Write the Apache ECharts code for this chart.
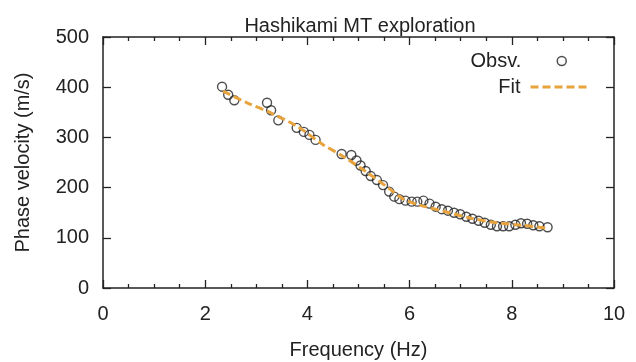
<!DOCTYPE html>
<html>
<head>
<meta charset="utf-8">
<script src="https://cdn.jsdelivr.net/npm/echarts@6/dist/echarts.min.js"></script>
<style>html,body{margin:0;padding:0;background:#fff}#c{width:636px;height:362px}</style>
</head>
<body>
<div id="c"></div>
<script>
const obsFreq = [2.33,2.45,2.57,3.21,3.29,3.43,3.79,3.93,4.04,4.16,4.67,4.86,4.96,5.04,5.14,5.24,5.36,5.48,5.60,5.70,5.80,5.92,6.04,6.15,6.27,6.39,6.51,6.63,6.75,6.87,6.99,7.11,7.23,7.35,7.47,7.59,7.71,7.83,7.95,8.07,8.18,8.30,8.42,8.54,8.70];
const obsVel  = [401,385,374,369,354,334,319,311,305,295,267,265,254,244,233,223,215,205,192,182,177,174,172,172,174,168,162,157,154,150,147,142,138,134,130,126,123,123,123,126,129,128,125,123,121];
const fitFreq = [2.35,2.8,3.3,3.8,4.3,4.7,5.2,5.6,5.9,6.2,6.7,7.2,7.7,8.2,8.7];
const fitVel  = [392,370,348,322,286,262,228,198,176,165,152,139,130,125,119];
const xTicks = [0,2,4,6,8,10];
const yTicks = [0,100,200,300,400,500];

const chart = echarts.init(document.getElementById('c'), null, {renderer:'canvas'});
const font = 'Liberation Sans, Arial, sans-serif';
const axisCol = '#222';
const txt = '#222';
const fs = 20;
const orange = '#e8a33c';
const tickStyle = {color:axisCol, width:1.3};
chart.setOption({
  animation:false,
  title:{text:'Hashikami MT exploration', left:355, textAlign:'center', top:11,
    textStyle:{fontFamily:font, fontSize:fs, fontWeight:'normal', color:txt}},
  legend:[
    {data:[{name:'Obsv.', icon:'circle', itemStyle:{color:'transparent', borderColor:'#222', borderWidth:1.5}}],
     right:64, top:46, align:'right', itemWidth:59, itemHeight:9,
     textStyle:{fontFamily:font, fontSize:fs, color:txt, padding:[0,6,0,0]}},
    {data:['Fit'], right:39, top:72, align:'right', itemWidth:60, itemHeight:20,
     itemStyle:{opacity:0},
     lineStyle:{color:orange, width:3, type:[8,4], opacity:1},
     textStyle:{fontFamily:font, fontSize:fs, color:txt, padding:[0,5,0,0]}}
  ],
  grid:{left:103, right:22, top:37, bottom:74, containLabel:false, outerBoundsMode:'none'},
  xAxis:[
    {type:'value', min:0, max:10, interval:2, position:'bottom',
      axisLine:{show:true, onZero:false, lineStyle:{color:axisCol, width:1.5}},
      splitLine:{show:false},
      name:'Frequency (Hz)', nameLocation:'middle', nameGap:52,
      nameTextStyle:{fontFamily:font, fontSize:fs, color:txt},
      axisTick:{show:true, inside:true, length:8, lineStyle:tickStyle},
      minorTick:{show:true, splitNumber:4, length:4, lineStyle:tickStyle},
      axisLabel:{fontFamily:font, fontSize:fs, color:txt, margin:16,
        formatter:v=>xTicks.includes(v)?String(v):''}},
    {type:'value', min:0, max:10, interval:2, position:'top',
      axisLine:{show:true, onZero:false, lineStyle:{color:axisCol, width:1.5}},
      splitLine:{show:false},
      axisTick:{show:true, inside:true, length:8, lineStyle:tickStyle},
      minorTick:{show:true, splitNumber:4, length:4, lineStyle:tickStyle},
      axisLabel:{show:false}}
  ],
  yAxis:[
    {type:'value', min:0, max:500, interval:100, position:'left',
      axisLine:{show:true, onZero:false, lineStyle:{color:axisCol, width:1.5}},
      splitLine:{show:false},
      name:'Phase velocity (m/s)', nameLocation:'middle', nameGap:70,
      nameTextStyle:{fontFamily:font, fontSize:fs, color:txt},
      axisTick:{show:true, inside:true, length:8, lineStyle:tickStyle},
      axisLabel:{fontFamily:font, fontSize:fs, color:txt, margin:14,
        formatter:v=>yTicks.includes(v)?String(v):''}},
    {type:'value', min:0, max:500, interval:100, position:'right',
      axisLine:{show:true, onZero:false, lineStyle:{color:axisCol, width:1.5}},
      splitLine:{show:false},
      axisTick:{show:true, inside:true, length:8, lineStyle:tickStyle},
      axisLabel:{show:false}}
  ],
  series:[
    {name:'Obsv.', type:'scatter', xAxisIndex:0, yAxisIndex:0,
     data:obsFreq.map((f,i)=>[f,obsVel[i]]), symbol:'circle', symbolSize:9,
     itemStyle:{color:'transparent', borderColor:'#222', borderWidth:1.4}, z:3},
    {name:'Fit', type:'line', xAxisIndex:0, yAxisIndex:0,
     data:fitFreq.map((f,i)=>[f,fitVel[i]]), symbol:'none', smooth:0.3,
     lineStyle:{color:orange, width:3, type:[8,4]}, itemStyle:{color:orange}, z:4}
  ]
});
</script>
</body>
</html>
